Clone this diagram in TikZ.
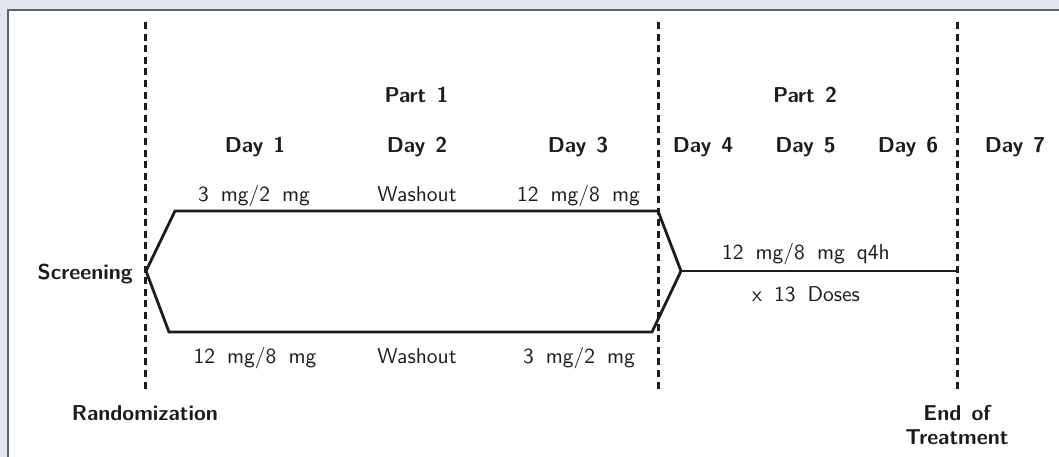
\documentclass[tikz,border=0pt]{standalone}
\usetikzlibrary{calc}
\definecolor{pagebg}{HTML}{E3E7EF}
\definecolor{framegray}{HTML}{5E6269}
\definecolor{ink}{HTML}{1C1C1C}
% text is set with the 10pt design size and enlarged
\newcommand\lblfont{\fontsize{10}{12}\selectfont\sffamily\setlength{\spaceskip}{0.56em}}
\newcommand\hdrfont{\fontsize{10}{12}\selectfont\sffamily\bfseries\setlength{\spaceskip}{0.47em}}
\newcommand\lb[1]{\scalebox{2.15}{\lblfont #1}}
\newcommand\hd[1]{\scalebox{2.15}{\hdrfont #1}}
\tikzset{
  txt/.style={inner sep=0pt, anchor=base, text=ink},
  milestone/.style={draw=ink, line width=3pt, dash pattern=on 7pt off 4.6pt},
  arm/.style={draw=ink, line width=2.8pt, line join=miter},
}
\begin{document}
\begin{tikzpicture}[x=1pt,y=-1pt]
  % page and panel
  \fill[pagebg] (0,0) rectangle (1059,457);
  \useasboundingbox (0,0) rectangle (1059,457);
  \fill[white] (8,10) rectangle (1062,460);
  \draw[framegray, line width=2pt] (8,460) -- (8,10) -- (1062,10);

  % milestone lines
  \coordinate (m1top) at (145,22);  \coordinate (m1bot) at (145,392);
  \coordinate (m2top) at (658,22);  \coordinate (m2bot) at (658,392);
  \coordinate (m3top) at (957,22);  \coordinate (m3bot) at (957,392);
  \draw[milestone] (m1top) -- (m1bot);
  \draw[milestone] (m2top) -- (m2bot);
  \draw[milestone] (m3top) -- (m3bot);

  % crossover arms
  \coordinate (split) at (146,271);
  \coordinate (upL) at (175,211);
  \coordinate (upR) at (658,211);
  \coordinate (loL) at (169,332);
  \coordinate (loR) at (652,332);
  \coordinate (merge) at (681,271);
  \coordinate (eot) at (957,271);
  \draw[arm] (split) -- (upL) -- (upR) -- (merge);
  \draw[arm] (split) -- (loL) -- (loR) -- (merge);
  \draw[arm] (merge) -- (eot);

  % headings
  \node[txt] (part1) at (416.5,103) {\hd{Part 1}};
  \node[txt] (part2) at (805,103) {\hd{Part 2}};
  \node[txt] (d1) at (255,153) {\hd{Day 1}};
  \node[txt] (d2) at (417,153) {\hd{Day 2}};
  \node[txt] (d3) at (578,153) {\hd{Day 3}};
  \node[txt] (d4) at (703,153) {\hd{Day 4}};
  \node[txt] (d5) at (805.5,153) {\hd{Day 5}};
  \node[txt] (d6) at (908,153) {\hd{Day 6}};
  \node[txt] (d7) at (1015,153) {\hd{Day 7}};

  % doses, upper sequence
  \node[txt] (u1) at (254,201) {\lb{3 mg/2 mg}};
  \node[txt] (u2) at (417,201) {\lb{Washout}};
  \node[txt] (u3) at (578.5,201) {\lb{12 mg/8 mg}};
  % doses, lower sequence
  \node[txt] (l1) at (255,363) {\lb{12 mg/8 mg}};
  \node[txt] (l2) at (417,363) {\lb{Washout}};
  \node[txt] (l3) at (579,363) {\lb{3 mg/2 mg}};
  % part 2 regimen
  \node[txt] (q4h) at (806,259) {\lb{12 mg/8 mg q4h}};
  \node[txt] (n13) at (806,301) {\lb{x 13 Doses}};

  % milestones
  \node[txt, anchor=base east] (scr) at (133,279) {\hd{Screening}};
  \node[txt] (rand) at (145,420) {\hd{Randomization}};
  \node[txt] (eot1) at (957,420) {\hd{End of}};
  \node[txt] (eot2) at (957,444) {\hd{Treatment}};
\end{tikzpicture}
\end{document}
